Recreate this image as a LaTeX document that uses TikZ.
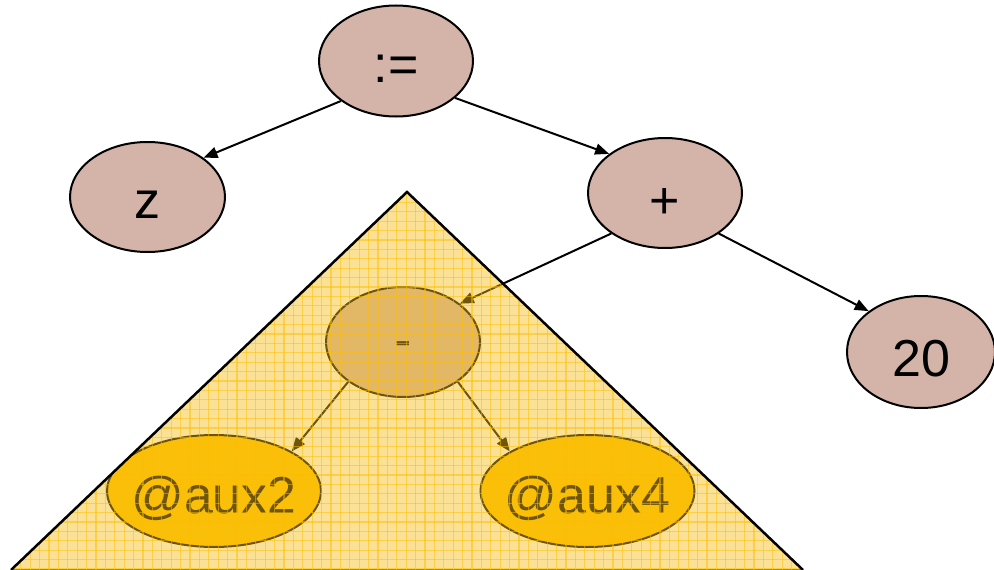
\documentclass[tikz,border=0pt]{standalone}
\usepackage{fontspec}
\setmainfont{Liberation Sans}
\usetikzlibrary{shapes.geometric,arrows.meta}
\definecolor{nodebrown}{RGB}{212,180,168}
\definecolor{auxorange}{RGB}{255,195,0}
\definecolor{veil}{RGB}{244,189,22}
\definecolor{gridline}{RGB}{255,190,0}

\begin{document}
\begin{tikzpicture}[x=1pt,y=-1pt,
  treenode/.style={ellipse,draw=black,line width=2pt,fill=nodebrown,inner sep=0pt,
    minimum width=154pt,minimum height=111pt},
  auxnode/.style={treenode,fill=auxorange,minimum width=214pt,minimum height=112pt},
  txt/.style={inner sep=0pt,font=\fontsize{52}{60}\selectfont},
  edge/.style={line width=2pt,draw=black,-{Triangle[length=14pt,width=11pt]}},
  gridstroke/.style={draw=gridline,line width=1.1pt,opacity=.5}]
\useasboundingbox (0,0) rectangle (994,570);

% outline of the highlighted subtree
\coordinate (apex) at (407,192);
\coordinate (bl) at (11,570);
\coordinate (br) at (803,570);

% upper part of the tree
\node[treenode] (assign) at (396,61) {};
\node[treenode,minimum width=155pt,minimum height=110pt] (z) at (147.5,197) {};
\node[treenode,minimum height=110pt] (plus) at (665,193) {};
\node[treenode,minimum width=148pt,minimum height=112pt] (twenty) at (921,352) {};

% subtree, cut to the triangle
\begin{scope}
  \clip (apex) -- (bl) -- (br) -- cycle;
  \node[treenode,minimum height=110pt] (minus) at (403,342) {};
  \node[auxnode] (aux2) at (214,491) {};
  \node[auxnode] (aux4) at (587.5,491) {};
  \node[txt] (minus-t) at ([yshift=-8pt]minus.center) {-};
  \node[txt] (aux2-t) at ([yshift=-7pt]aux2.center) {@aux2};
  \node[txt] (aux4-t) at ([yshift=-7pt]aux4.center) {@aux4};
  \draw[edge] (minus.216) -- (aux2.27);
  \draw[edge] (minus.-36) -- (aux4.153);
\end{scope}

% node texts
\node[txt] (assign-t) at ([yshift=-8pt]assign.center) {:=};
\node[txt] (z-t) at ([yshift=-8pt]z.center) {z};
\node[txt] (plus-t) at ([yshift=-10pt]plus.center) {+};
\node[txt] (twenty-t) at ([yshift=-7pt]twenty.center) {20};

% connectors
\draw[edge] (assign.216) -- (z.35);
\draw[edge] (assign.-32) -- (plus.145);
\draw[edge] (plus.217) -- (minus.34);
\draw[edge] (plus.-37) -- (twenty.142);

% translucent gridded veil over the subtree
\draw[line width=2.5pt] (bl) -- (br);
\fill[veil,fill opacity=.45] (apex) -- (bl) -- (br) -- cycle;
\begin{scope}
  \clip (apex) -- (bl) -- (br) -- cycle;
  \foreach \i in {0,...,86} \draw[gridstroke] (2+9.4*\i,185) -- (2+9.4*\i,575);
  \foreach \i in {0,...,41} \draw[gridstroke] (0,193+9.4*\i) -- (810,193+9.4*\i);
\end{scope}
\draw[line width=2.5pt,line join=miter] (bl) -- (apex) -- (br);
\end{tikzpicture}
\end{document}
